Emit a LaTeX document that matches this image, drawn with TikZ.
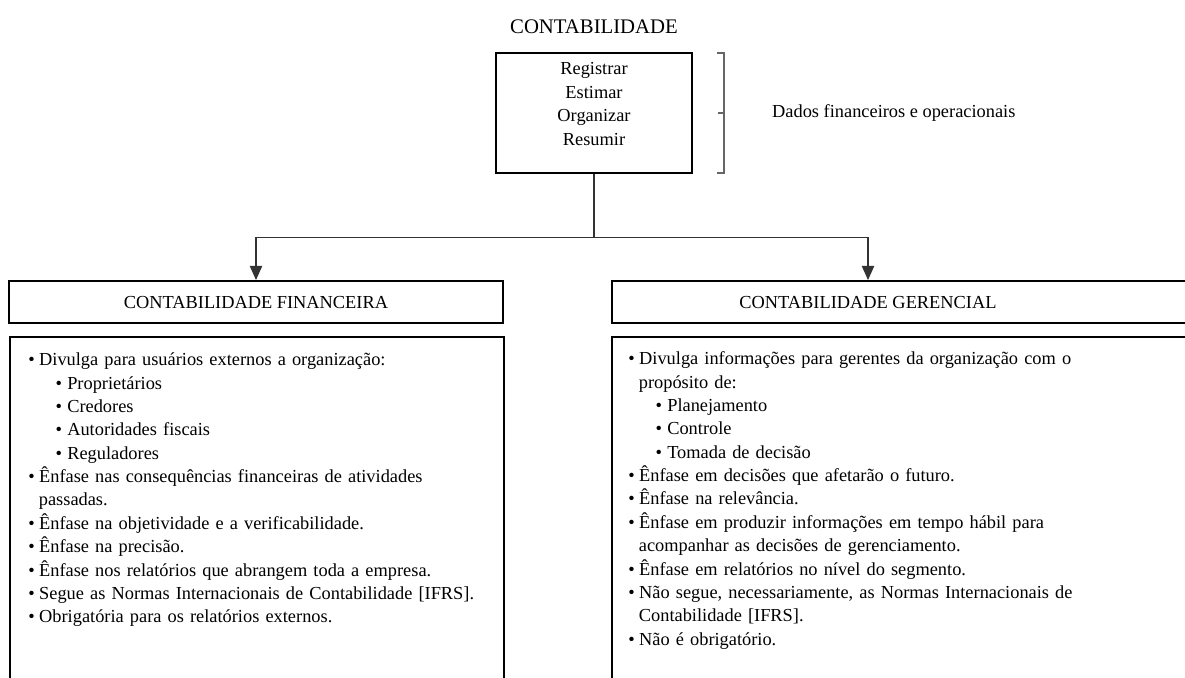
\documentclass[tikz,border=0pt]{standalone}
\usepackage{fontspec}
\setmainfont{Liberation Serif}
\usepackage{enumitem}
\usetikzlibrary{positioning}
\usetikzlibrary{arrows.meta}

\setlist[itemize,1]{label=\textbullet, leftmargin=6pt, labelsep=2.5pt, labelwidth=3.5pt, align=left,
  topsep=0pt, partopsep=0pt, itemsep=0pt, parsep=0pt}
\setlist[itemize,2]{label=\textbullet, leftmargin=15.5pt, labelsep=3pt, labelwidth=3pt, align=left,
  topsep=0pt, partopsep=0pt, itemsep=0pt, parsep=0pt}

\begin{document}
\begin{tikzpicture}[
    x=0.02cm, y=-0.02cm,
    font=\fontsize{10.45}{13.3}\selectfont,
    actbox/.style={draw, line width=1.1pt, minimum width=3.92cm, minimum height=2.4cm},
    headbox/.style={draw, line width=1.1pt, minimum height=0.84cm, inner sep=0pt},
    listbox/.style={draw, line width=1.1pt, anchor=north west, minimum height=8cm},
    listtext/.style={anchor=north west, inner sep=0pt, align=left},
    conn/.style={draw=black!80, line width=0.6pt},
    arr/.style={-{Triangle[length=8pt,width=7pt]}}
    ]
    \clip (0,0) rectangle (1185,677);

    \node[font=\fontsize{11.8}{14}\selectfont] (title) at (594,27) {CONTABILIDADE};
    \node[actbox] (acts) at (594,113) {};
    \node[align=center] (actstext) at (594,104) {Registrar\\Estimar\\Organizar\\Resumir};

    % chave ao lado das atividades
    \coordinate (bt) at (724,53);
    \coordinate (bb) at (724,173);
    \draw[black!60, line width=0.6pt] ([xshift=-4]bt) -- (bt) -- (bb) -- ([xshift=-4]bb);
    \draw[black!60, line width=0.6pt] (718,113) -- (724,113);
    \node[anchor=west] (dados) at (766,113) {Dados financeiros e operacionais};

    \node[headbox, minimum width=9.88cm] (fin) at (256,302) {CONTABILIDADE FINANCEIRA};
    \node[headbox, minimum width=12cm, anchor=west] (ger) at (611,302) {};
    \node (gertitle) at (868,302) {CONTABILIDADE GERENCIAL};

    \coordinate[below=1.28cm of acts.south] (split);
    \draw[conn] (acts.south) -- (split);
    \draw[conn, arr] (split) -| (fin.north);
    \draw[conn, arr] (split) -| (ger.north -| gertitle);

    \node[listbox, minimum width=9.88cm] (finlist) at (9,336) {};
    \node[listbox, minimum width=12cm] (gerlist) at (611,336) {};

    \node[listtext, text width=9.8cm] (fintext) at (28,342) {%
      \begin{itemize}
        \item Divulga para usuários externos a organização:
          \begin{itemize}
            \item Proprietários
            \item Credores
            \item Autoridades fiscais
            \item Reguladores
          \end{itemize}
        \item Ênfase nas consequências financeiras de atividades\newline passadas.
        \item Ênfase na objetividade e a verificabilidade.
        \item Ênfase na precisão.
        \item Ênfase nos relatórios que abrangem toda a empresa.
        \item Segue as Normas Internacionais de Contabilidade [IFRS].
        \item Obrigatória para os relatórios externos.
      \end{itemize}};

    \node[listtext, text width=10.8cm] (gertext) at (628,341) {%
      \begin{itemize}
        \item Divulga informações para gerentes da organização com o\newline propósito de:
          \begin{itemize}
            \item Planejamento
            \item Controle
            \item Tomada de decisão
          \end{itemize}
        \item Ênfase em decisões que afetarão o futuro.
        \item Ênfase na relevância.
        \item Ênfase em produzir informações em tempo hábil para\newline acompanhar as decisões de gerenciamento.
        \item Ênfase em relatórios no nível do segmento.
        \item Não segue, necessariamente, as Normas Internacionais de\newline Contabilidade [IFRS].
        \item Não é obrigatório.
      \end{itemize}};

  \end{tikzpicture}
\end{document}
